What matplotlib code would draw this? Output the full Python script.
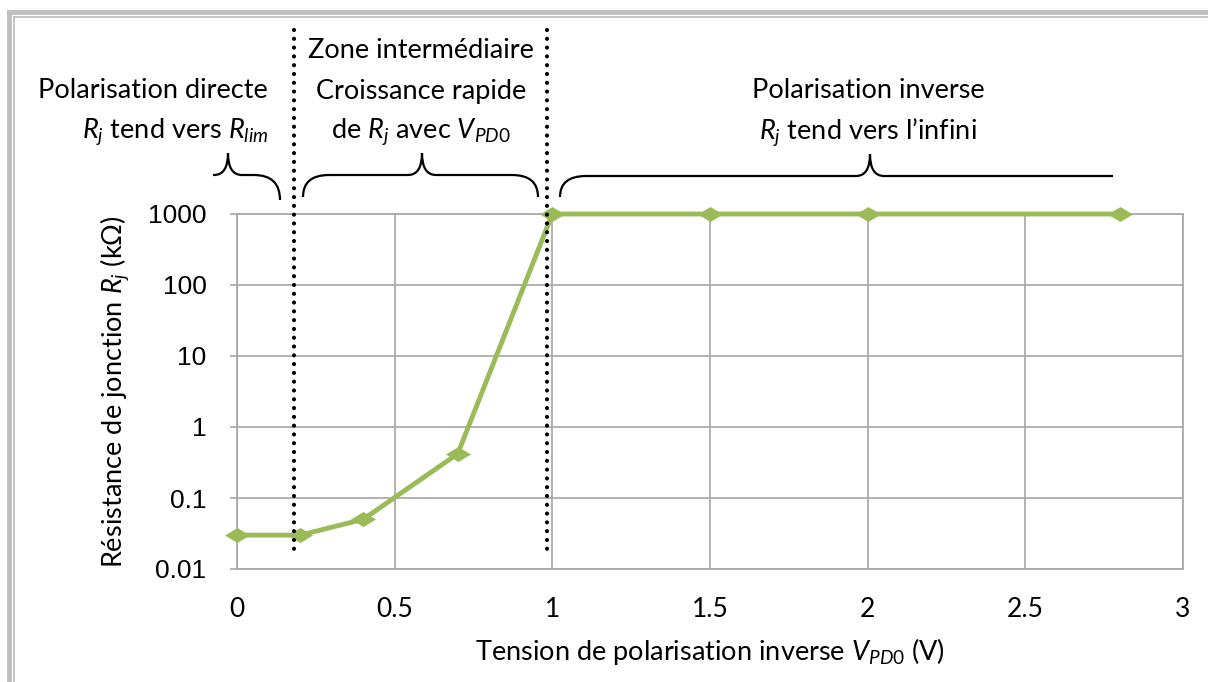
import matplotlib
matplotlib.use("Agg")
import matplotlib.pyplot as plt
from matplotlib.path import Path
from matplotlib.lines import Line2D
from matplotlib.patches import PathPatch

# data
tension = [0, 0.2, 0.4, 0.7, 1.0, 1.5, 2.0, 2.8]
resistance = [0.03, 0.03, 0.05, 0.42, 1000, 1000, 1000, 1000]
x_ticks = [0, 0.5, 1, 1.5, 2, 2.5, 3]
x_tick_labels = ["0", "0.5", "1", "1.5", "2", "2.5", "3"]
y_ticks = [0.01, 0.1, 1, 10, 100, 1000]
y_tick_labels = ["0.01", "0.1", "1", "10", "100", "1000"]
zone_limits = [0.18, 0.983]

plt.rcParams['font.family'] = ['Lato', 'DejaVu Sans']
plt.rcParams['mathtext.fontset'] = 'custom'
plt.rcParams['mathtext.rm'] = 'Lato'
plt.rcParams['mathtext.it'] = 'Lato:italic'

W, H = 1208, 682
fig = plt.figure(figsize=(W / 100, H / 100), dpi=100)

def fx(px):
    return px / W

def fy(py):
    return 1 - py / H

ax = fig.add_axes([fx(237), fy(569), fx(1183) - fx(237), fy(214) - fy(569)])
ax.set_yscale('log')
ax.set_xlim(0, 3)
ax.set_ylim(0.01, 1000)

grid_col = '#A6A6A6'
ax.set_xticks(x_ticks)
ax.set_xticklabels(x_tick_labels)
ax.set_yticks(y_ticks)
ax.set_yticklabels(y_tick_labels, family='Liberation Sans')
ax.minorticks_off()
ax.grid(True, color=grid_col, lw=1.2)
for s in ax.spines.values():
    s.set_color(grid_col)
    s.set_linewidth(1.2)
ax.tick_params(axis='y', length=5, color=grid_col, width=1.2, labelsize=19, pad=17)
ax.tick_params(axis='x', length=0, labelsize=19, pad=20)

# wide diamond marker
diamond = Path([(-1, 0), (0, 0.6), (1, 0), (0, -0.6), (-1, 0)],
               [Path.MOVETO, Path.LINETO, Path.LINETO, Path.LINETO, Path.CLOSEPOLY])
ax.plot(tension, resistance, color='#9BBB59', lw=3.5, marker=diamond,
        markersize=18, markeredgewidth=0, clip_on=False, zorder=3)

ax.set_xlabel(r'Tension de polarisation inverse $V_{\mathit{PD0}}$ (V)', fontsize=19.5, labelpad=10)
ax.set_ylabel(r'Résistance de jonction $R_j$ (kΩ)', fontsize=19.5, labelpad=12)

# dotted separators between zones
for xv, ybot in zip(zone_limits, [555, 550]):
    xp = 237 + xv * (1183 - 237) / 3
    fig.add_artist(Line2D([fx(xp), fx(xp)], [fy(30), fy(ybot)], color='black',
                          lw=3, linestyle=(0, (0.01, 2.1)), dash_capstyle='round'))

# zone annotations
fs = 19.5
fig.text(fx(268), fy(91), 'Polarisation directe', ha='right', va='center', fontsize=fs)
fig.text(fx(268), fy(132), r'$R_j$ tend vers $R_{lim}$', ha='right', va='center', fontsize=fs)
fig.text(fx(421), fy(50), 'Zone intermédiaire', ha='center', va='center', fontsize=fs)
fig.text(fx(421), fy(91), 'Croissance rapide', ha='center', va='center', fontsize=fs)
fig.text(fx(421), fy(132), r'de $R_j$ avec $V_{\mathit{PD0}}$', ha='center', va='center', fontsize=fs)
fig.text(fx(868), fy(91), 'Polarisation inverse', ha='center', va='center', fontsize=fs)
fig.text(fx(868), fy(132), r'$R_j$ tend vers l’infini', ha='center', va='center', fontsize=fs)


def brace(x0, x1, xt, y_end_l, y_end_r, y_mid, y_tip, curl_l=True, curl_r=True):
    # curly brace drawn as bezier segments, pixel coords
    r = 26
    verts, codes = [], []
    if curl_l:
        verts += [(x0, y_end_l), (x0, y_mid), (x0 + r, y_mid)]
        codes += [Path.MOVETO, Path.CURVE3, Path.CURVE3]
    else:
        verts += [(x0, y_mid)]
        codes += [Path.MOVETO]
    verts += [(xt - 14, y_mid), (xt, y_mid), (xt, y_tip),
              (xt, y_mid), (xt + 14, y_mid)]
    codes += [Path.LINETO, Path.CURVE3, Path.CURVE3, Path.CURVE3, Path.CURVE3]
    if curl_r:
        verts += [(x1 - r, y_mid), (x1, y_mid), (x1, y_end_r)]
        codes += [Path.LINETO, Path.CURVE3, Path.CURVE3]
    else:
        verts += [(x1, y_mid)]
        codes += [Path.LINETO]
    verts = [(fx(a), fy(b)) for a, b in verts]
    fig.add_artist(PathPatch(Path(verts, codes), fill=False, lw=1.6,
                             edgecolor='black', transform=fig.transFigure))


brace(213, 280, 228, 175, 200, 175, 153, curl_l=False)
brace(303, 538, 422, 197, 197, 175, 153)
brace(560, 1113, 870, 197, 176, 176, 154, curl_r=False)

# double frame on top and left edges
frame_col = '#BFBFBF'
fig.add_artist(Line2D([fx(9), 1], [fy(12), fy(12)], color=frame_col, lw=3.5))
fig.add_artist(Line2D([fx(9), fx(9)], [fy(12), 0], color=frame_col, lw=3.5))
fig.add_artist(Line2D([fx(14), 1], [fy(16.5), fy(16.5)], color=frame_col, lw=1.3))
fig.add_artist(Line2D([fx(13.5), fx(13.5)], [fy(16.5), 0], color=frame_col, lw=1.3))

fig.savefig('out.png', dpi=100)
